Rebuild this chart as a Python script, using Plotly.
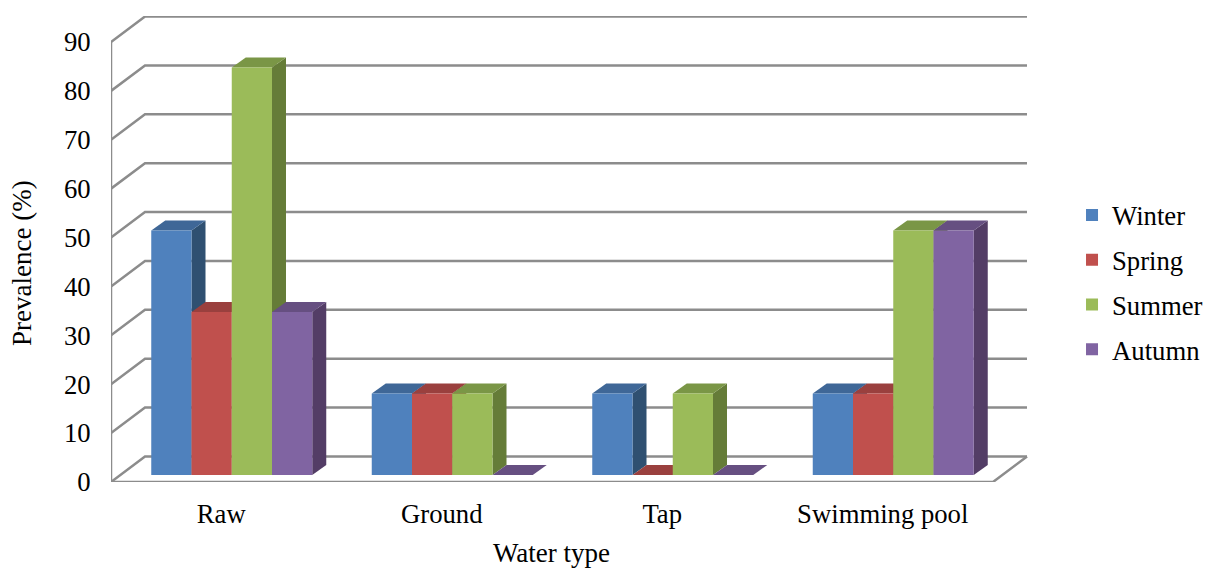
import plotly.graph_objects as go

categories = ["Raw", "Ground", "Tap", "Swimming pool"]
winter = [50, 16.67, 16.67, 16.67]
spring = [33.33, 16.67, 0, 16.67]
summer = [83.33, 16.67, 16.67, 50]
autumn = [33.33, 0, 0, 50]
series_names = ["Winter", "Spring", "Summer", "Autumn"]
y_ticks = [0, 10, 20, 30, 40, 50, 60, 70, 80, 90]

series = [winter, spring, summer, autumn]
front_colors = ["#4F81BD", "#C0504D", "#9BBB59", "#8064A2"]
top_colors = ["#3F6797", "#9A403E", "#7A9646", "#664F81"]
side_colors = ["#2F5071", "#7E3431", "#657C38", "#533D66"]

W, H = 1210, 569
L, R, T, B = 111, 1028, 16, 482
PX = 220.5          # pixels per category
PY = 4.889          # pixels per percent
FONT = "Liberation Serif"
FS = 26.7
GRID = "#8C8C8C"

xr = [-0.5, -0.5 + (R - L) / PX]
yr = [0, (B - T) / PY]
# bars stand on a plane shifted into the box
xr_f = [xr[0] - 10.5 / PX, xr[1] - 10.5 / PX]
yr_f = [yr[0] - 7 / PY, yr[1] - 7 / PY]

BOX_DX, BOX_DY = 34 / PX, 25.5 / PY
BAR_DX, BAR_DY = 14 / PX, 10 / PY
GROUP = 161 / PX
BW = GROUP / 4
TICK = 7 / PX

fig = go.Figure()

# wall lines
x0, x1 = -0.5, len(categories) - 0.5
wx, wy = [], []
for v in y_ticks:
    wx += [x0 - TICK, x0, x0 + BOX_DX, x1 + BOX_DX, None]
    wy += [v, v, v + BOX_DY, v + BOX_DY, None]
wx += [x0, x0, None, x0, x1, x1 + BOX_DX]
wy += [y_ticks[0], y_ticks[-1], None, 0, 0, BOX_DY]
fig.add_trace(go.Scatter(x=wx, y=wy, mode="lines", line=dict(color=GRID, width=2.5),
                         showlegend=False, hoverinfo="skip", cliponaxis=False))

# top and side faces, painted left to right
for c in range(len(categories)):
    for k, vals in enumerate(series):
        v = vals[c]
        a = c + (k - 2) * BW
        b = a + BW
        fig.add_trace(go.Scatter(
            x=[b, b + BAR_DX, b + BAR_DX, b, b], y=[0, BAR_DY, v + BAR_DY, v, 0],
            mode="lines", fill="toself", fillcolor=side_colors[k], line=dict(width=0),
            showlegend=False, hoverinfo="skip", xaxis="x2", yaxis="y2"))
        fig.add_trace(go.Scatter(
            x=[a, b, b + BAR_DX, a + BAR_DX, a], y=[v, v, v + BAR_DY, v + BAR_DY, v],
            mode="lines", fill="toself", fillcolor=top_colors[k], line=dict(width=0),
            showlegend=False, hoverinfo="skip", xaxis="x2", yaxis="y2"))

# front faces
for k, vals in enumerate(series):
    fig.add_trace(go.Bar(x=list(range(len(categories))), y=vals, name=series_names[k],
                         marker=dict(color=front_colors[k], line=dict(width=0)),
                         legendgroup=series_names[k], xaxis="x3", yaxis="y3"))

def paper_x(px):
    return (px - L) / (R - L)

def paper_y(py):
    return (B - py) / (B - T)

hidden = dict(visible=False, fixedrange=True)
fig.update_layout(
    width=W, height=H, autosize=False,
    margin=dict(l=L, r=W - R, t=T, b=H - B, autoexpand=False),
    paper_bgcolor="white", plot_bgcolor="white",
    font=dict(family=FONT, size=FS, color="black"),
    barmode="group", bargap=1 - GROUP, bargroupgap=0,
    showlegend=True,
    legend=dict(x=1.048, y=0.624, xanchor="left", yanchor="top", tracegroupgap=7,
                font=dict(family=FONT, size=FS), itemwidth=30,
                bgcolor="rgba(0,0,0,0)", traceorder="grouped"),
    xaxis=dict(range=xr, tickmode="array", tickvals=list(range(len(categories))), ticktext=categories,
               ticks="outside", ticklen=8, tickcolor="rgba(0,0,0,0)", showgrid=False, zeroline=False,
               showline=False, automargin=False),
    yaxis=dict(range=yr, tickmode="array", tickvals=y_ticks, ticks="outside", ticklen=14,
               tickcolor="rgba(0,0,0,0)", showgrid=False, zeroline=False, showline=False,
               automargin=False),
    xaxis2=dict(range=xr_f, overlaying="x", **hidden),
    yaxis2=dict(range=yr_f, overlaying="y", **hidden),
    xaxis3=dict(range=xr_f, overlaying="x", **hidden),
    yaxis3=dict(range=yr_f, overlaying="y", **hidden),
    annotations=[
        dict(text="Water type", xref="paper", yref="paper", x=paper_x(551), y=paper_y(553),
             xanchor="center", yanchor="middle", showarrow=False, font=dict(family=FONT, size=27)),
        dict(text="Prevalence (%)", xref="paper", yref="paper", x=paper_x(22), y=paper_y(263),
             xanchor="center", yanchor="middle", textangle=-90, showarrow=False,
             font=dict(family=FONT, size=27)),
    ],
)
fig.write_html("out.html", config=dict(displayModeBar=False),
               post_script="document.body.style.margin='0';document.body.style.overflow='hidden';")
